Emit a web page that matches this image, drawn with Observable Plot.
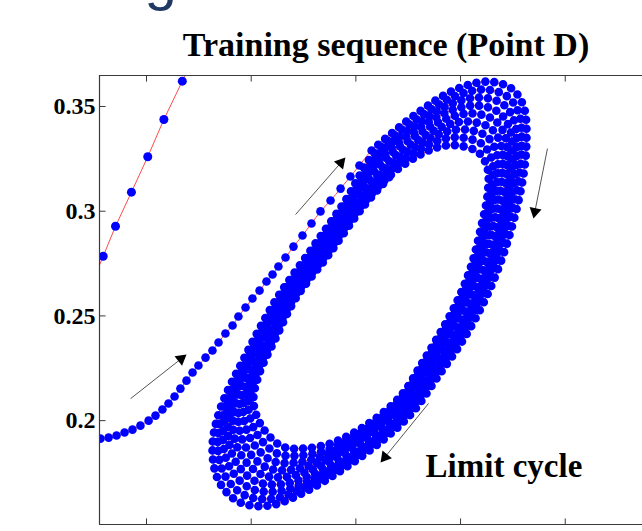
<!DOCTYPE html>
<html>
<head>
<meta charset="utf-8">
<script src="https://cdn.jsdelivr.net/npm/d3@7"></script>
<script src="https://cdn.jsdelivr.net/npm/@observablehq/plot@0.6"></script>
<style>
  html, body { margin: 0; padding: 0; background: #fff; }
  #chart { width: 642px; height: 531px; overflow: hidden; }
</style>
</head>
<body>
<div id="chart"></div>
<script>
// ---------- data ----------
const titleText = "Training sequence (Point D)";
const limitLabel = "Limit cycle";
const yTicks = [0.2, 0.25, 0.3, 0.35];
const yTickLabels = ["0.2", "0.25", "0.3", "0.35"];
const xTicks = [0.10, 0.15, 0.20, 0.25, 0.30];

// first pass of the trajectory (enters from the top, leaves at the left)
const entrySegment = [[0.1248,0.3796],[0.1171,0.3621],[0.1083,0.3438],[0.1006,0.3260],[0.0928,0.3091],[0.0852,0.2928],[0.0793,0.2785],[0.0737,0.2650]];

// approach from the lower left towards the cycle
const approachPath = [[0.0780,0.1914],[0.0819,0.1919],[0.0857,0.1929],[0.0895,0.1943],[0.0933,0.1957],[0.0971,0.1976],[0.1010,0.2000],[0.1043,0.2024],[0.1076,0.2053],[0.1105,0.2082],[0.1134,0.2115],[0.1162,0.2153],[0.1191,0.2191],[0.1220,0.2230],[0.1248,0.2263],[0.1282,0.2301],[0.1315,0.2335],[0.1344,0.2373],[0.1377,0.2416],[0.1411,0.2454],[0.1439,0.2497],[0.1473,0.2540],[0.1506,0.2583],[0.1540,0.2621],[0.1573,0.2664],[0.1602,0.2698],[0.1630,0.2736],[0.1664,0.2779],[0.1702,0.2831],[0.1745,0.2884],[0.1788,0.2941],[0.1831,0.2999],[0.1879,0.3051],[0.1927,0.3108],[0.1974,0.3166],[0.2017,0.3218]];

// successive turns of the spiral (outermost first, limit cycle last)
const loop1 = [[0.2075,0.3290],[0.2285,0.3462],[0.2476,0.3581],[0.2629,0.3619],[0.2743,0.3586],[0.2801,0.3500],[0.2815,0.3347],[0.2796,0.3147],[0.2729,0.2870],[0.2633,0.2612],[0.2519,0.2397],[0.2395,0.2215],[0.2270,0.2039],[0.2137,0.1914],[0.1950,0.1776],[0.1759,0.1661],[0.1583,0.1594],[0.1439,0.1613],[0.1344,0.1714],[0.1315,0.1871],[0.1353,0.2058],[0.1473,0.2311],[0.1616,0.2573],[0.1783,0.2812],[0.1950,0.3051]];
const loop2 = [[0.2088,0.3277],[0.2288,0.3438],[0.2467,0.3547],[0.2612,0.3581],[0.2723,0.3548],[0.2780,0.3463],[0.2792,0.3314],[0.2772,0.3120],[0.2706,0.2852],[0.2613,0.2605],[0.2503,0.2397],[0.2384,0.2221],[0.2267,0.2053],[0.2142,0.1934],[0.1960,0.1800],[0.1774,0.1690],[0.1604,0.1628],[0.1465,0.1646],[0.1370,0.1746],[0.1340,0.1898],[0.1376,0.2078],[0.1491,0.2321],[0.1628,0.2574],[0.1793,0.2809],[0.1960,0.3047]];
const loop3 = [[0.2101,0.3264],[0.2291,0.3414],[0.2458,0.3513],[0.2594,0.3543],[0.2704,0.3510],[0.2758,0.3426],[0.2769,0.3280],[0.2747,0.3093],[0.2684,0.2834],[0.2594,0.2598],[0.2487,0.2397],[0.2374,0.2227],[0.2263,0.2068],[0.2147,0.1955],[0.1971,0.1824],[0.1789,0.1719],[0.1625,0.1662],[0.1492,0.1679],[0.1397,0.1777],[0.1364,0.1925],[0.1399,0.2097],[0.1509,0.2331],[0.1640,0.2576],[0.1803,0.2805],[0.1971,0.3043]];
const loop4 = [[0.2114,0.3251],[0.2294,0.3390],[0.2449,0.3479],[0.2577,0.3505],[0.2684,0.3471],[0.2737,0.3389],[0.2745,0.3247],[0.2723,0.3066],[0.2661,0.2816],[0.2574,0.2590],[0.2471,0.2397],[0.2363,0.2233],[0.2260,0.2082],[0.2151,0.1975],[0.1981,0.1848],[0.1804,0.1747],[0.1646,0.1696],[0.1518,0.1712],[0.1423,0.1809],[0.1389,0.1952],[0.1421,0.2117],[0.1527,0.2341],[0.1652,0.2577],[0.1813,0.2802],[0.1981,0.3039]];
const loop5 = [[0.2128,0.3238],[0.2297,0.3367],[0.2440,0.3445],[0.2560,0.3467],[0.2665,0.3433],[0.2715,0.3352],[0.2722,0.3214],[0.2698,0.3040],[0.2638,0.2798],[0.2555,0.2583],[0.2455,0.2397],[0.2352,0.2239],[0.2256,0.2096],[0.2156,0.1996],[0.1991,0.1872],[0.1819,0.1776],[0.1667,0.1731],[0.1545,0.1745],[0.1449,0.1841],[0.1413,0.1979],[0.1444,0.2137],[0.1545,0.2352],[0.1664,0.2578],[0.1824,0.2798],[0.1991,0.3035]];
const loop6 = [[0.2141,0.3224],[0.2300,0.3343],[0.2431,0.3411],[0.2542,0.3428],[0.2645,0.3395],[0.2694,0.3315],[0.2699,0.3180],[0.2674,0.3013],[0.2615,0.2780],[0.2535,0.2576],[0.2438,0.2397],[0.2341,0.2245],[0.2253,0.2110],[0.2161,0.2016],[0.2001,0.1895],[0.1834,0.1805],[0.1687,0.1765],[0.1571,0.1777],[0.1475,0.1872],[0.1438,0.2005],[0.1467,0.2156],[0.1562,0.2362],[0.1676,0.2579],[0.1834,0.2795],[0.2001,0.3030]];
const loop7 = [[0.2154,0.3211],[0.2303,0.3319],[0.2422,0.3377],[0.2525,0.3390],[0.2625,0.3357],[0.2672,0.3278],[0.2676,0.3147],[0.2649,0.2986],[0.2592,0.2762],[0.2515,0.2569],[0.2422,0.2397],[0.2331,0.2251],[0.2249,0.2125],[0.2166,0.2036],[0.2012,0.1919],[0.1849,0.1834],[0.1708,0.1799],[0.1597,0.1810],[0.1502,0.1904],[0.1462,0.2032],[0.1490,0.2176],[0.1580,0.2372],[0.1688,0.2581],[0.1844,0.2791],[0.2012,0.3026]];
const loop8 = [[0.2167,0.3198],[0.2306,0.3295],[0.2413,0.3343],[0.2507,0.3352],[0.2606,0.3318],[0.2651,0.3241],[0.2652,0.3113],[0.2625,0.2959],[0.2570,0.2744],[0.2496,0.2561],[0.2406,0.2397],[0.2320,0.2257],[0.2246,0.2139],[0.2170,0.2057],[0.2022,0.1943],[0.1864,0.1862],[0.1729,0.1833],[0.1624,0.1843],[0.1528,0.1935],[0.1487,0.2059],[0.1512,0.2195],[0.1598,0.2382],[0.1700,0.2582],[0.1854,0.2788],[0.2022,0.3022]];
const loop9 = [[0.2180,0.3185],[0.2309,0.3271],[0.2404,0.3309],[0.2490,0.3314],[0.2586,0.3280],[0.2629,0.3204],[0.2629,0.3080],[0.2600,0.2932],[0.2547,0.2726],[0.2476,0.2554],[0.2390,0.2397],[0.2309,0.2263],[0.2242,0.2153],[0.2175,0.2077],[0.2032,0.1967],[0.1879,0.1891],[0.1750,0.1867],[0.1650,0.1876],[0.1554,0.1967],[0.1511,0.2086],[0.1535,0.2215],[0.1616,0.2392],[0.1712,0.2583],[0.1864,0.2784],[0.2032,0.3018],[0.2180,0.3185]];

// annotation arrows: tail and head
const arrowTails = [[0.0924,0.2105],[0.1712,0.2984],[0.2915,0.3299],[0.2347,0.2082]];
const arrowHeads = [[0.1165,0.2295],[0.1928,0.3231],[0.2855,0.2998],[0.2139,0.1826]];
const limitLabelAt = [0.2333, 0.1733];

// ---------- build ----------
const xDomain = [0.07755, 0.3369];
const yDomain = [0.1504, 0.3648];
const tickLen = 0.0029;
const RED = "#ff4a4a";
const BLUE = "#0000ff";
const AXIS = "#3a3a3a";
const serif = "'Liberation Serif', 'Times New Roman', serif";

const toObj = ([x, y]) => ({x, y});
const seg = entrySegment.map(toObj);
const appr = approachPath.map(toObj);
const loops = [loop1, loop2, loop3, loop4, loop5, loop6, loop7, loop8, loop9].flat().map(toObj);
const spiral = appr.concat(loops);
const arrows = arrowTails.map((t, i) => ({x1: t[0], y1: t[1], x2: arrowHeads[i][0], y2: arrowHeads[i][1]}));

const chart = Plot.plot({
  width: 642,
  height: 531,
  marginTop: 75,
  marginRight: 0,
  marginBottom: 7,
  marginLeft: 99,
  x: {domain: xDomain, axis: null},
  y: {domain: yDomain, axis: null},
  style: {fontFamily: serif, background: "white", overflow: "visible"},
  marks: [
    // trajectory lines
    Plot.line(seg, {x: "x", y: "y", stroke: RED, strokeWidth: 1, clip: true}),
    Plot.line(spiral, {x: "x", y: "y", curve: "catmull-rom", stroke: RED, strokeWidth: 1, clip: true}),
    // sample points
    Plot.dot(seg, {x: "x", y: "y", r: 4.5, fill: BLUE, stroke: null, clip: true}),
    Plot.dot(appr, {x: "x", y: "y", r: 4.3, fill: BLUE, stroke: null, clip: true}),
    Plot.line(loops, {x: "x", y: "y", curve: "catmull-rom", stroke: BLUE, strokeWidth: 8.6,
      strokeDasharray: "0 9", strokeLinecap: "round", clip: true}),
    // frame (left, top, bottom)
    Plot.ruleX([xDomain[0]], {stroke: AXIS, strokeWidth: 1.2}),
    Plot.ruleY(yDomain, {stroke: AXIS, strokeWidth: 1.2}),
    // inward ticks
    Plot.link(xTicks, {x1: d => d, x2: d => d, y1: yDomain[0], y2: yDomain[0] + tickLen, stroke: AXIS}),
    Plot.link(xTicks, {x1: d => d, x2: d => d, y1: yDomain[1], y2: yDomain[1] - tickLen, stroke: AXIS}),
    Plot.link(yTicks, {y1: d => d, y2: d => d, x1: xDomain[0], x2: xDomain[0] + tickLen, stroke: AXIS}),
    // y tick labels
    Plot.text(yTicks, {x: xDomain[0], y: d => d, text: (d, i) => yTickLabels[i], textAnchor: "end",
      dx: -4, fontSize: 24, fontWeight: "bold", fill: "black"}),
    // arrows
    Plot.link(arrows, {x1: "x1", y1: "y1", x2: "x2", y2: "y2", stroke: "#555", strokeWidth: 1}),
    Plot.dot(arrows, {x: "x2", y: "y2", symbol: "triangle", r: 4.5, fill: "black", stroke: null,
      rotate: d => Math.atan2(d.x2 - d.x1, d.y2 - d.y1) * 180 / Math.PI}),
    // labels
    Plot.text([limitLabel], {x: limitLabelAt[0], y: limitLabelAt[1], text: d => d, textAnchor: "start",
      lineAnchor: "bottom", fontSize: 33, fontWeight: "bold", fill: "black"}),
    Plot.text([titleText], {frameAnchor: "top", text: d => d, dx: 15, dy: -20, lineAnchor: "bottom",
      fontSize: 34, fontWeight: "bold", fill: "black"}),
    Plot.text(["g"], {frameAnchor: "top-left", text: d => d, dx: 45, dy: -77, textAnchor: "start",
      lineAnchor: "bottom", fontSize: 58, fill: "#1f3864", fontFamily: "'Liberation Sans', Arial, sans-serif"})
  ]
});
document.getElementById("chart").append(chart);
</script>
</body>
</html>
